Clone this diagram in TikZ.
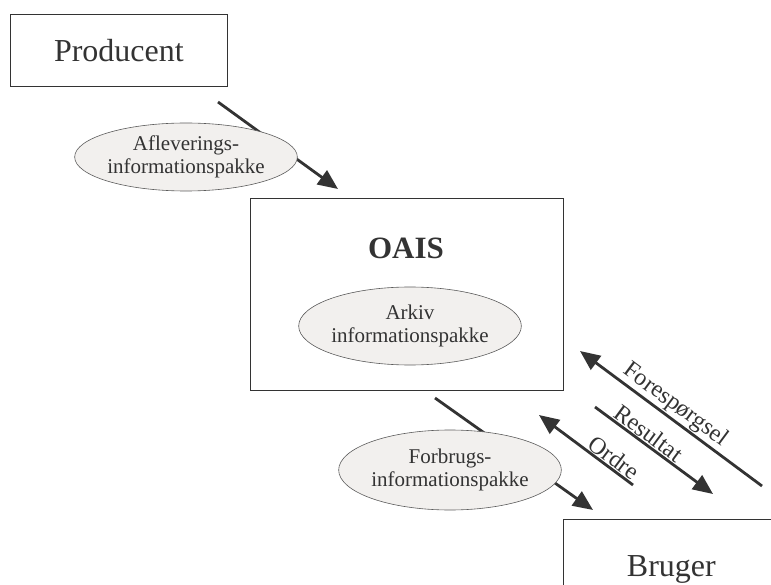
\documentclass[tikz,border=0pt]{standalone}
\usepackage{fontspec}
\setmainfont{Liberation Serif}
\usetikzlibrary{arrows.meta,backgrounds,shapes.geometric}
\definecolor{ink}{HTML}{333333}
\definecolor{pakke}{HTML}{F2F0EE}
\tikzset{
  box/.style={draw=ink, line width=0.8pt, text=ink, font=\fontsize{32}{34}\selectfont},
  pkg/.style={ellipse, draw=ink!80, line width=0.6pt, fill=pakke, text=ink,
    minimum width=193pt, minimum height=76pt, inner sep=0pt, align=center,
    font=\fontsize{21}{23}\selectfont},
  flow/.style={draw=ink, line width=2.8pt, -{Triangle[length=20pt,width=17pt]}},
  lbl/.style={sloped, above, text=ink, inner sep=1pt, font=\fontsize{24}{26}\selectfont}
}
\begin{document}
\begin{tikzpicture}[x=1pt,y=-1pt]
  \useasboundingbox (0,0) rectangle (771,585);
  \node[name=prod, box, anchor=north west, minimum width=217pt, minimum height=72pt] at (10,14) {Producent};
  \node[name=oais, box, anchor=north west, minimum width=313pt, minimum height=192pt] at (250,198) {};
  \node[name=title, text=ink, font=\fontsize{31}{33}\selectfont\bfseries] at (406,248) {OAIS};
  \node[name=bruger, box, anchor=north west, minimum width=216pt, minimum height=100pt] at (563,519) {Bruger};
  \node[name=afl, pkg, minimum height=68pt] at (186,157) {Afleverings-\\informationspakke};
  \node[name=arkiv, pkg, minimum height=78pt] at (410,326) {Arkiv\\informationspakke};
  \node[name=forbrug, pkg, minimum height=80pt] at (450,470) {Forbrugs-\\informationspakke};
  \coordinate (afl1) at (218,102);
  \coordinate (afl2) at (338,189);
  \coordinate (fb1) at (435,398);
  \coordinate (fb2) at (593,510);
  \coordinate (ord1) at (633,485);
  \coordinate (ord2) at (539,415);
  \coordinate (res1) at (595,407);
  \coordinate (res2) at (713,494);
  \coordinate (qry1) at (762,486);
  \coordinate (qry2) at (580,351);
  \begin{scope}[on background layer]
    \draw[flow] (afl1) -- (afl2);
    \draw[flow] (fb1) -- (fb2);
  \end{scope}
  \draw[flow] (ord1) -- node[lbl, pos=0.27]{Ordre} (ord2);
  \draw[flow] (res1) -- node[lbl, pos=0.40]{Resultat} (res2);
  \draw[flow] (qry1) -- node[lbl, pos=0.52]{Forespørgsel} (qry2);
\end{tikzpicture}
\end{document}
